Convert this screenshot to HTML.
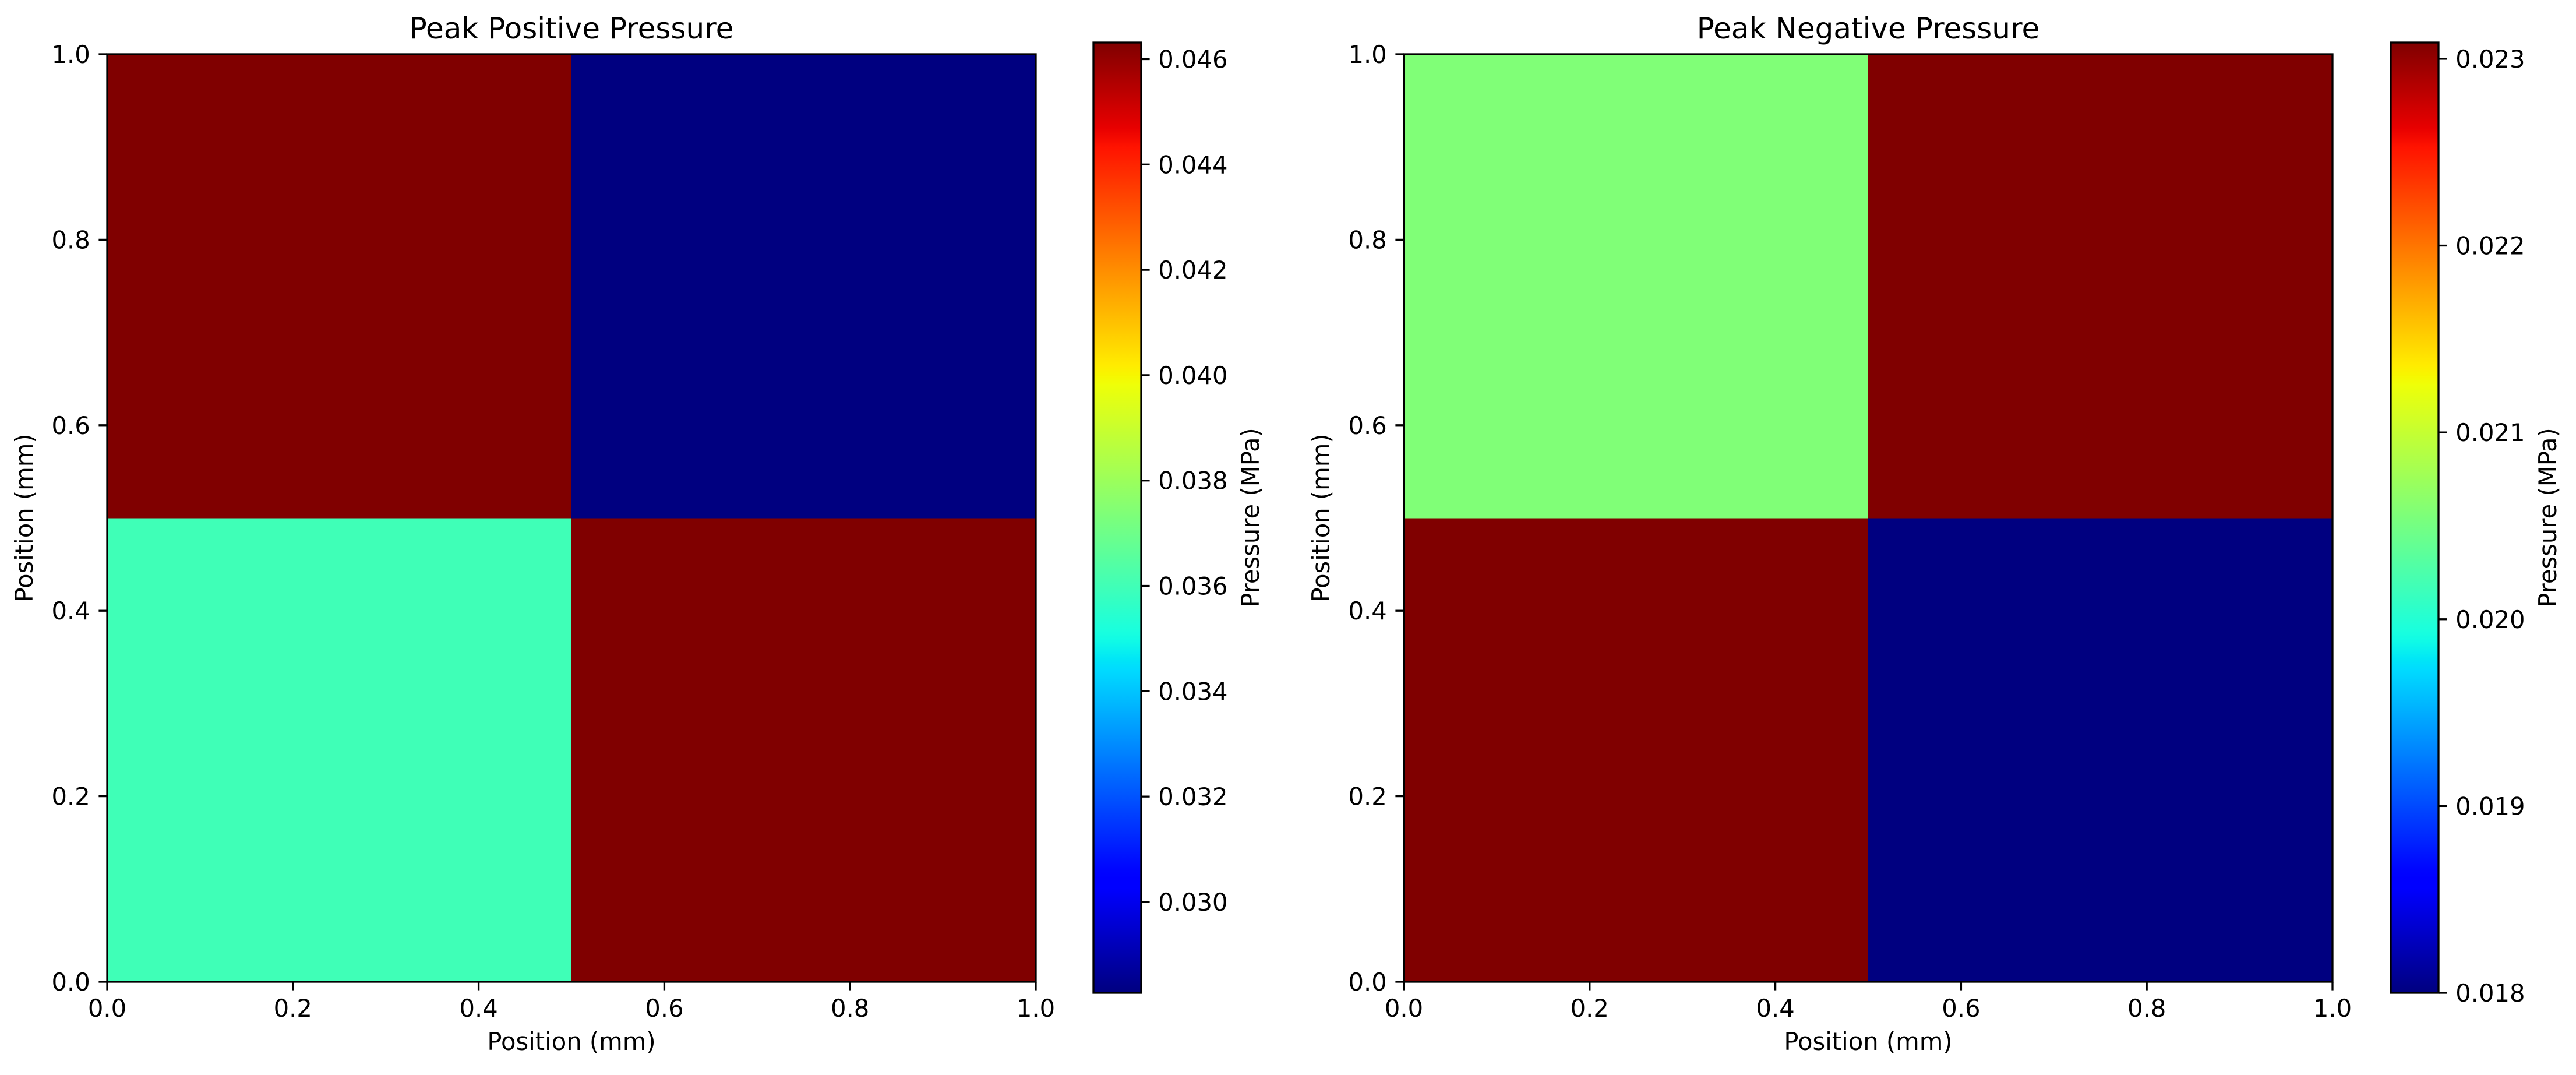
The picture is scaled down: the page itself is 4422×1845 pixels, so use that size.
<!DOCTYPE html>
<html><head><meta charset="utf-8"><style>html,body{margin:0;padding:0;background:#fff;}svg{display:block;}</style></head>
<body>
<svg id="fig" width="4422" height="1845" xmlns="http://www.w3.org/2000/svg" font-family="DejaVu Sans, Liberation Sans, sans-serif"></svg>
<script>
// ---- data ----
const xEdges = [0, 0.5, 1.0];
const yEdges = [0, 0.5, 1.0];
// rows from bottom (y 0-0.5) to top (y 0.5-1.0), columns left to right
const positiveValues = [[0.03598, 0.04632], [0.04632, 0.02827]];
const negativeValues = [[0.023087, 0.018], [0.02057, 0.023087]];
const axisTicks = [0, 0.2, 0.4, 0.6, 0.8, 1.0];
const axisTickLabels = ["0.0", "0.2", "0.4", "0.6", "0.8", "1.0"];
const posRange = [0.028274, 0.046315];
const negRange = [0.018, 0.023087];
const posCbTicks = [0.030, 0.032, 0.034, 0.036, 0.038, 0.040, 0.042, 0.044, 0.046];
const posCbLabels = ["0.030", "0.032", "0.034", "0.036", "0.038", "0.040", "0.042", "0.044", "0.046"];
const negCbTicks = [0.018, 0.019, 0.020, 0.021, 0.022, 0.023];
const negCbLabels = ["0.018", "0.019", "0.020", "0.021", "0.022", "0.023"];

const NS = "http://www.w3.org/2000/svg";
const svg = document.getElementById("fig");
function el(tag, attrs, parent) {
  const e = document.createElementNS(NS, tag);
  for (const k in attrs) e.setAttribute(k, attrs[k]);
  (parent || svg).appendChild(e);
  return e;
}
function interp(pts, t) {
  for (let i = 1; i < pts.length; i++) {
    if (t <= pts[i][0]) {
      const [x0, y0] = pts[i - 1], [x1, y1] = pts[i];
      return y0 + (y1 - y0) * (t - x0) / (x1 - x0);
    }
  }
  return pts[pts.length - 1][1];
}
function jet(t) {
  t = Math.max(0, Math.min(1, t));
  const r = interp([[0, 0], [0.35, 0], [0.66, 1], [0.89, 1], [1, 0.5]], t);
  const g = interp([[0, 0], [0.125, 0], [0.375, 1], [0.64, 1], [0.91, 0], [1, 0]], t);
  const b = interp([[0, 0.5], [0.11, 1], [0.34, 1], [0.65, 0], [1, 0]], t);
  return `rgb(${Math.round(r * 255)},${Math.round(g * 255)},${Math.round(b * 255)})`;
}

const FS = 41.7, TL = 14.6, LW = 3.3;

function panel(opts) {
  const { ax0, title, values, range, cbX, cbTicks, cbLabels, key } = opts;
  const ay0 = 93, aw = 1594, ah = 1592;
  const sx = v => ax0 + v * aw;
  const sy = v => ay0 + ah - v * ah;
  const g = el("g", {});
  
  
  // cells
  for (let r = 0; r < values.length; r++) {
    for (let c = 0; c < values[r].length; c++) {
      const t = (values[r][c] - range[0]) / (range[1] - range[0]);
      const x0 = sx(xEdges[c]), x1 = sx(xEdges[c + 1]);
      const y0 = sy(yEdges[r + 1]), y1 = sy(yEdges[r]);
      const cell = el("rect", { x: x0, y: y0, width: x1 - x0 + 0.5, height: y1 - y0 + 0.5, fill: jet(t) }, g);
      
      
    }
  }
  const frame = el("rect", { x: ax0, y: ay0, width: aw, height: ah, fill: "none", stroke: "#000", "stroke-width": LW }, g);
  
  
  // ticks
  axisTicks.forEach((v, i) => {
    el("line", { x1: sx(v), x2: sx(v), y1: ay0 + ah, y2: ay0 + ah + TL, stroke: "#000", "stroke-width": LW }, g);
    const xt = el("text", { x: sx(v), y: ay0 + ah + TL + 14.6 + 31, "font-size": FS, "text-anchor": "middle" }, g);
    xt.textContent = axisTickLabels[i];
    
    
    el("line", { x1: ax0 - TL, x2: ax0, y1: sy(v), y2: sy(v), stroke: "#000", "stroke-width": LW }, g);
    const yt = el("text", { x: ax0 - TL - 14.6, y: sy(v) + 15, "font-size": FS, "text-anchor": "end" }, g);
    yt.textContent = axisTickLabels[i];
    
    
  });
  const tt = el("text", { x: ax0 + aw / 2, y: 66, "font-size": 50, "text-anchor": "middle" }, g);
  tt.textContent = title;
  
  
  const xl = el("text", { x: ax0 + aw / 2, y: 1802, "font-size": FS, "text-anchor": "middle" }, g);
  xl.textContent = "Position (mm)";
  
  
  const ylx = ax0 - 128;
  const yl = el("text", { x: ylx, y: ay0 + ah / 2, "font-size": FS, "text-anchor": "middle", transform: `rotate(-90 ${ylx} ${ay0 + ah / 2})` }, g);
  yl.textContent = "Position (mm)";
  
  

  // colorbar
  const cy0 = 73, cy1 = 1704, cw = 82;
  const gid = "grad-" + key;
  const defs = el("defs", {}, g);
  const lg = el("linearGradient", { id: gid, x1: 0, y1: 1, x2: 0, y2: 0 }, defs);
  for (let i = 0; i <= 100; i++) el("stop", { offset: i / 100, "stop-color": jet(i / 100) }, lg);
  const cb = el("rect", { x: cbX, y: cy0, width: cw, height: cy1 - cy0, fill: `url(#${gid})`, stroke: "#000", "stroke-width": LW }, g);
  
  
  const cyv = v => cy1 - (v - range[0]) / (range[1] - range[0]) * (cy1 - cy0);
  cbTicks.forEach((v, i) => {
    el("line", { x1: cbX + cw, x2: cbX + cw + TL, y1: cyv(v), y2: cyv(v), stroke: "#000", "stroke-width": LW }, g);
    const ct = el("text", { x: cbX + cw + TL + 14.6, y: cyv(v) + 15, "font-size": FS }, g);
    ct.textContent = cbLabels[i];
    
    
  });
  const clx = cbX + 284;
  const cl = el("text", { x: clx, y: (cy0 + cy1) / 2, "font-size": FS, "text-anchor": "middle", transform: `rotate(-90 ${clx} ${(cy0 + cy1) / 2})` }, g);
  cl.textContent = "Pressure (MPa)";
  
  
}

panel({ ax0: 184, title: "Peak Positive Pressure", values: positiveValues, range: posRange, cbX: 1877, cbTicks: posCbTicks, cbLabels: posCbLabels, key: "positive" });
panel({ ax0: 2410, title: "Peak Negative Pressure", values: negativeValues, range: negRange, cbX: 4104, cbTicks: negCbTicks, cbLabels: negCbLabels, key: "negative" });
</script>
</body></html>
